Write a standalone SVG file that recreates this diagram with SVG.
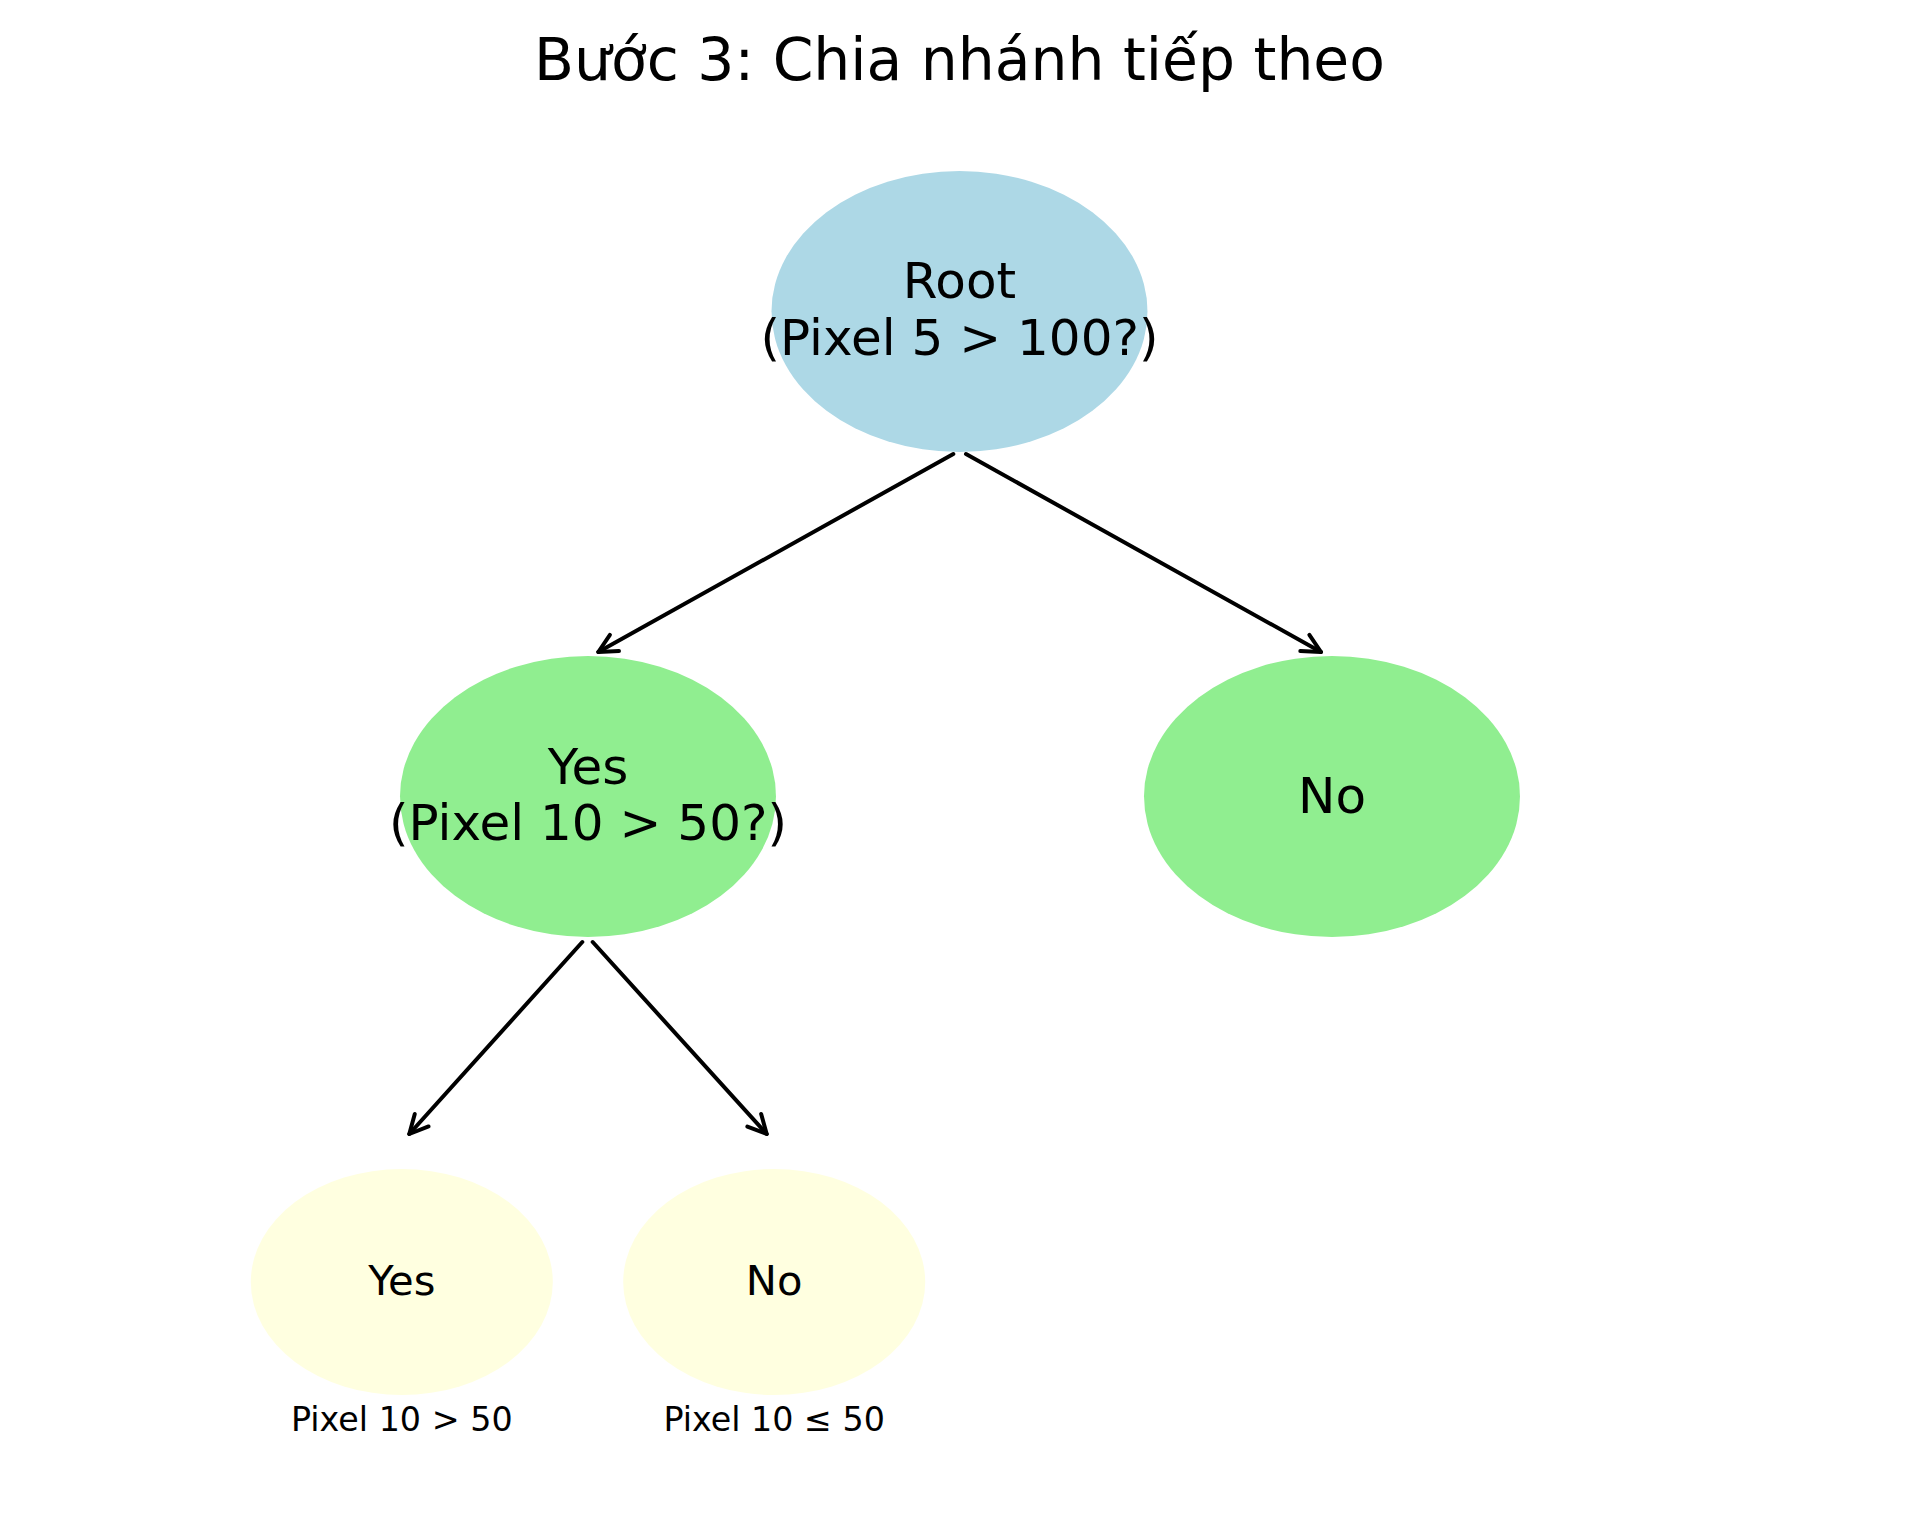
<svg xmlns="http://www.w3.org/2000/svg" width="1919" height="1520" viewBox="0 0 1919 1520">
<defs>
<style>
text{font-family:"DejaVu Sans","Liberation Sans",sans-serif;fill:#000;text-anchor:middle}
.title{font-size:58.33px}
.big{font-size:50px}
.leaf{font-size:41.67px}
.lbl{font-size:33.33px}
.root{fill:#ADD8E6}
.mid{fill:#90EE90}
.lf{fill:#FFFFE0}
.edge{stroke:#000;stroke-width:4;fill:none;stroke-linecap:round;marker-end:url(#arr)}
</style>
<marker id="arr" markerUnits="userSpaceOnUse" viewBox="-25 -15 30 30" refX="0" refY="0" markerWidth="30" markerHeight="30" orient="auto" overflow="visible">
<path d="M -18.5 -9.3 L 0 0 L -18.5 9.3" fill="none" stroke="#000" stroke-width="4" stroke-linecap="round" stroke-linejoin="round"/>
</marker>
</defs>
<rect width="1919" height="1520" fill="#fff"/>
<text class="title" x="959.5" y="80">Bước 3: Chia nhánh tiếp theo</text>
<g id="connectors">
<line class="edge" x1="953.3" y1="454" x2="598.3" y2="652"/>
<line class="edge" x1="966" y1="454" x2="1321" y2="652"/>
<line class="edge" x1="582.3" y1="942" x2="409.3" y2="1134"/>
<line class="edge" x1="592.7" y1="942" x2="766.7" y2="1134"/>
</g>
<g id="root">
<ellipse class="root" cx="959.5" cy="311.5" rx="188" ry="140.5"/>
<text class="big" x="959.5" y="298">Root</text>
<text class="big" x="959.5" y="355">(Pixel 5 &gt; 100?)</text>
</g>
<g id="yes1">
<ellipse class="mid" cx="588" cy="796.5" rx="188" ry="140.5"/>
<text class="big" x="588" y="784">Yes</text>
<text class="big" x="588" y="840">(Pixel 10 &gt; 50?)</text>
</g>
<g id="no1">
<ellipse class="mid" cx="1332" cy="796.5" rx="188" ry="140.5"/>
<text class="big" x="1332" y="812.5">No</text>
</g>
<g id="yes2">
<ellipse class="lf" cx="401.8" cy="1282" rx="151" ry="113"/>
<text class="leaf" x="401.8" y="1295">Yes</text>
<text class="lbl" x="401.8" y="1431">Pixel 10 &gt; 50</text>
</g>
<g id="no2">
<ellipse class="lf" cx="774.2" cy="1282" rx="151" ry="113"/>
<text class="leaf" x="774.2" y="1295">No</text>
<text class="lbl" x="774.2" y="1431">Pixel 10 ≤ 50</text>
</g>
</svg>
